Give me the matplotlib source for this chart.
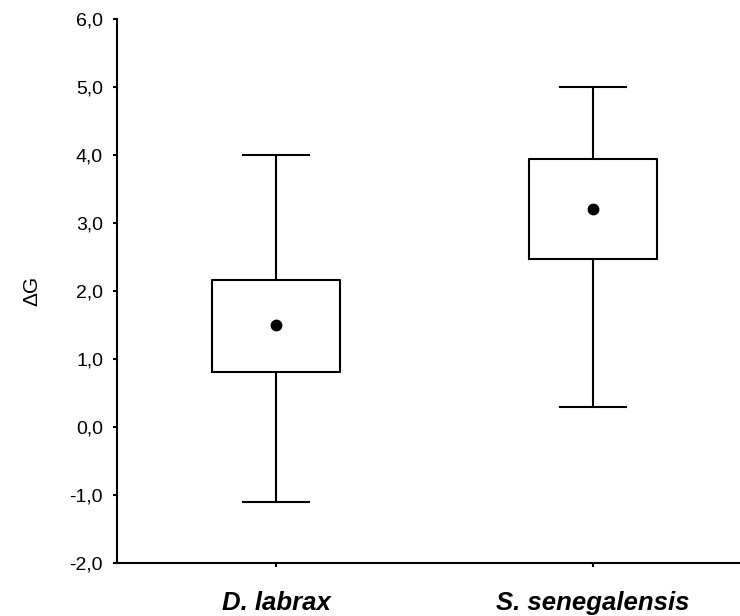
import matplotlib
matplotlib.use("Agg")
import matplotlib.pyplot as plt

# values
species = ["D. labrax", "S. senegalensis"]
whisker_low = [-1.1, 0.29]
box_low = [0.81, 2.47]
means = [1.5, 3.2]
box_high = [2.16, 3.94]
whisker_high = [4.0, 5.0]
y_ticks = [-2.0, -1.0, 0.0, 1.0, 2.0, 3.0, 4.0, 5.0, 6.0]

plt.rcParams["font.family"] = ["Liberation Sans", "DejaVu Sans"]

stats = []
for i in range(len(species)):
    stats.append({
        "label": species[i],
        "whislo": whisker_low[i],
        "q1": box_low[i],
        "med": means[i],
        "mean": means[i],
        "q3": box_high[i],
        "whishi": whisker_high[i],
        "fliers": [],
    })

fig = plt.figure(figsize=(7.4, 6.16), dpi=100)
ax = fig.add_axes([117 / 740, 1 - 563 / 616, 1 - 117 / 740, (563 - 19) / 616])

ax.bxp(
    stats,
    positions=[1, 2],
    widths=0.404,
    showmeans=True,
    showfliers=False,
    boxprops=dict(color="black", linewidth=1.5),
    whiskerprops=dict(color="black", linewidth=1.5),
    capprops=dict(color="black", linewidth=1.5),
    medianprops=dict(linewidth=0),
    meanprops=dict(marker="o", markerfacecolor="black", markeredgecolor="black",
                   markersize=7.5),
    capwidths=0.21,
)

ax.set_xlim(0.498, 2.464)
ax.set_ylim(-2.0, 6.0)
ax.set_yticks(y_ticks)
ax.set_yticklabels([f"{v:.1f}".replace(".", ",") for v in y_ticks], fontsize=14)
ax.set_xticks([1, 2])
ax.set_xticklabels(species, fontsize=18.5, fontweight="bold", fontstyle="italic")
ax.tick_params(axis="y", direction="out", length=3, width=1.5, pad=7)
ax.tick_params(axis="x", direction="out", length=3, width=1.5, pad=17)
ax.set_ylabel("ΔG", fontsize=15, labelpad=20)

ax.spines["top"].set_visible(False)
ax.spines["right"].set_visible(False)
ax.spines["left"].set_linewidth(1.5)
ax.spines["bottom"].set_linewidth(1.5)

fig.savefig("out.png", dpi=100)
